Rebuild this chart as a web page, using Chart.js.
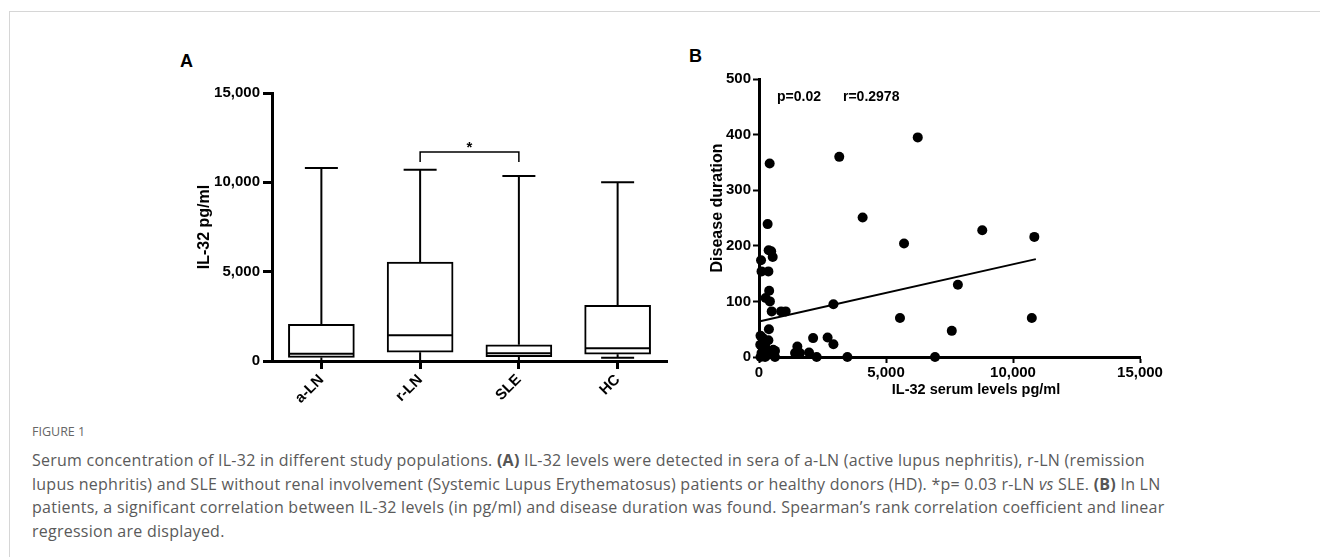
<!DOCTYPE html>
<html>
<head>
<meta charset="utf-8">
<script src="https://cdn.jsdelivr.net/npm/chart.js@4.4.0/dist/chart.umd.min.js"></script>
<style>
  body { margin: 0; background: #fff; width: 1320px; height: 557px; overflow: hidden; position: relative; }
  .frame { position: absolute; left: 9px; top: 11px; width: 1320px; height: 560px; border-left: 1px solid #d6d6d6; border-top: 1px solid #d6d6d6; }
  .wrap { position: absolute; }
  #wrapA { left: 170px; top: 40px; width: 520px; height: 370px; }
  #wrapB { left: 690px; top: 40px; width: 480px; height: 370px; }
  .panel { position: absolute; font: bold 18px 'Liberation Sans', Arial, sans-serif; line-height: 18px; color: #000; }
  #fig { position: absolute; left: 32px; top: 424px; font: 12.5px 'Open Sans', sans-serif; line-height: 16px; color: #666; }
  #cap { position: absolute; left: 32px; top: 449px; font: 16px 'Open Sans', sans-serif; letter-spacing: 0.25px; line-height: 23.5px; color: #5a5a5a; white-space: nowrap; }
  #cap b { color: #555; }
</style>
</head>
<body>
<div class="frame"></div>
<div class="panel" style="left:180px; top:52px;">A</div>
<div class="panel" style="left:689px; top:47px;">B</div>
<div class="wrap" id="wrapA"><canvas id="chartA" width="520" height="370"></canvas></div>
<div class="wrap" id="wrapB"><canvas id="chartB" width="480" height="370"></canvas></div>
<div id="fig">FIGURE 1</div>
<div id="cap">Serum concentration of IL-32 in different study populations. <b>(A)</b> IL-32 levels were detected in sera of a-LN (active lupus nephritis), r-LN (remission<br>lupus nephritis) and SLE without renal involvement (Systemic Lupus Erythematosus) patients or healthy donors (HD). *p= 0.03 r-LN <i>vs</i> SLE. <b>(B)</b> In LN<br>patients, a significant correlation between IL-32 levels (in pg/ml) and disease duration was found. Spearman’s rank correlation coefficient and linear<br>regression are displayed.</div>

<script>
// Panel A - box plot
const groups = ['a-LN', 'r-LN', 'SLE', 'HC'];
const whiskerMin = [0, 0, 0, 180];
const q1 = [200, 490, 240, 380];
const median = [410, 1440, 430, 710];
const q3 = [2050, 5540, 910, 3120];
const whiskerMax = [10800, 10700, 10350, 10000];
const yTicksA = [0, 5000, 10000, 15000];
// significance bracket r-LN vs SLE
const sigPair = ['r-LN', 'SLE'];
const sigLevel = 11700;
const sigText = '*';

// Panel B - scatter (IL-32 vs disease duration)
const il32 = [6250, 3160, 420, 4080, 340, 5710, 8790, 10840,
    380, 480, 540, 80, 100, 370, 400, 260, 430,
    7830, 2930, 500, 870, 1050, 5550, 10740, 7590, 390,
    2130, 2700, 2930, 1510, 1420, 1610, 1970, 2270, 3480, 6930,
    60, 150, 370, 240, 50, 560, 300, 630, 100, 430, 360, 630, 60, 240, 180];
const duration = [395, 360, 348, 251, 239, 204, 228, 216,
    192, 190, 180, 174, 154, 154, 119, 106, 100,
    130, 95, 82, 82, 82, 70, 70, 47, 50,
    34, 35, 23, 19, 7, 7, 8, 0, 0, 0,
    38, 34, 30, 22, 22, 13, 13, 11, 7, 7, 4, 0, 0, 0, 15];
const fitX = [0, 10900];
const fitY = [64, 176];
const statsText = ['p=0.02', 'r=0.2978'];

const FONT = "'Liberation Sans', Arial, sans-serif";
const fmt = v => Number(v).toLocaleString('en-US');

function seg(ctx, x1, y1, x2, y2) {
    ctx.beginPath();
    ctx.moveTo(x1, y1);
    ctx.lineTo(x2, y2);
    ctx.stroke();
}

// whiskers, caps, medians and the significance bracket
const boxParts = {
    id: 'boxParts',
    afterDatasetsDraw(chart) {
        const { ctx, scales: { x, y } } = chart;
        const bars = chart.getDatasetMeta(0).data;
        ctx.save();
        ctx.strokeStyle = '#000';
        ctx.lineWidth = 2;
        groups.forEach((g, i) => {
            const cx = x.getPixelForValue(i);
            const half = bars[i].width / 2;
            const cap = half / 2;
            seg(ctx, cx, y.getPixelForValue(q3[i]), cx, y.getPixelForValue(whiskerMax[i]));
            seg(ctx, cx - cap, y.getPixelForValue(whiskerMax[i]), cx + cap, y.getPixelForValue(whiskerMax[i]));
            seg(ctx, cx, y.getPixelForValue(q1[i]), cx, y.getPixelForValue(whiskerMin[i]));
            seg(ctx, cx - cap, y.getPixelForValue(whiskerMin[i]), cx + cap, y.getPixelForValue(whiskerMin[i]));
            seg(ctx, cx - half + 1, y.getPixelForValue(median[i]), cx + half - 1, y.getPixelForValue(median[i]));
        });
        // bracket
        const xa = x.getPixelForValue(groups.indexOf(sigPair[0]));
        const xb = x.getPixelForValue(groups.indexOf(sigPair[1]));
        const yb = y.getPixelForValue(sigLevel);
        ctx.lineWidth = 1.5;
        ctx.beginPath();
        ctx.moveTo(xa, yb + 10);
        ctx.lineTo(xa, yb);
        ctx.lineTo(xb, yb);
        ctx.lineTo(xb, yb + 10);
        ctx.stroke();
        ctx.fillStyle = '#000';
        ctx.font = 'bold 15px ' + FONT;
        ctx.textAlign = 'center';
        ctx.textBaseline = 'middle';
        ctx.fillText(sigText, (xa + xb) / 2, yb - 4);
        ctx.restore();
    }
};

new Chart(document.getElementById('chartA'), {
    type: 'bar',
    data: {
        labels: groups,
        datasets: [{
            data: groups.map((g, i) => [q1[i], q3[i]]),
            backgroundColor: '#fff',
            borderColor: '#000',
            borderWidth: 2,
            borderSkipped: false,
            barThickness: 66
        }]
    },
    options: {
        responsive: false,
        animation: false,
        devicePixelRatio: 1,
        layout: { padding: { top: 53, right: 23, left: 0, bottom: 0 } },
        plugins: { legend: { display: false }, tooltip: { enabled: false } },
        scales: {
            x: {
                offset: true,
                grid: { offset: false, drawOnChartArea: false, drawTicks: true, tickLength: 8, tickWidth: 3, color: '#000' },
                border: { display: true, color: '#000', width: 3 },
                ticks: { color: '#000', font: { family: FONT, size: 15, weight: 'bold' }, minRotation: 45, maxRotation: 45, padding: 2 },
                afterFit(s) { s.height = 49; }
            },
            y: {
                min: 0,
                max: 15000,
                afterBuildTicks(s) { s.ticks = yTicksA.map(v => ({ value: v })); },
                grid: { drawOnChartArea: false, drawTicks: true, tickLength: 9, tickWidth: 3, color: '#000' },
                border: { display: true, color: '#000', width: 3 },
                ticks: { color: '#000', font: { family: FONT, size: 15, weight: 'bold' }, padding: 3, callback: fmt },
                title: { display: true, text: 'IL-32 pg/ml', color: '#000', font: { family: FONT, size: 16, weight: 'bold' }, padding: { top: 25, bottom: 0 } },
                afterFit(s) { s.width = 102; }
            }
        }
    },
    plugins: [boxParts]
});

// axis titles and stats text for panel B
const scatterText = {
    id: 'scatterText',
    afterDraw(chart) {
        const { ctx, chartArea: a } = chart;
        ctx.save();
        ctx.fillStyle = '#000';
        ctx.textBaseline = 'middle';
        ctx.font = 'bold 14px ' + FONT;
        ctx.textAlign = 'left';
        ctx.fillText(statsText[0], a.left + 18, a.top + 18);
        ctx.fillText(statsText[1], a.left + 84, a.top + 18);
        ctx.textAlign = 'center';
        ctx.font = 'bold 14.5px ' + FONT;
        ctx.fillText('IL-32 serum levels pg/ml', a.left + 217, a.bottom + 33);
        ctx.translate(28, a.top + 129);
        ctx.rotate(-Math.PI / 2);
        ctx.font = 'bold 16px ' + FONT;
        ctx.fillText('Disease duration', 0, 0);
        ctx.restore();
    }
};

new Chart(document.getElementById('chartB'), {
    type: 'scatter',
    data: {
        datasets: [{
            data: il32.map((v, i) => ({ x: v, y: duration[i] })),
            backgroundColor: '#000',
            borderWidth: 0,
            pointRadius: 5,
            clip: false
        }, {
            type: 'line',
            data: fitX.map((v, i) => ({ x: v, y: fitY[i] })),
            borderColor: '#000',
            borderWidth: 2,
            pointRadius: 0,
            fill: false,
            clip: false
        }]
    },
    options: {
        responsive: false,
        animation: false,
        devicePixelRatio: 1,
        layout: { padding: { top: 39, right: 30, left: 0, bottom: 0 } },
        plugins: { legend: { display: false }, tooltip: { enabled: false } },
        scales: {
            x: {
                type: 'linear',
                min: 0,
                max: 15000,
                grid: { drawOnChartArea: false, drawTicks: true, tickLength: 6, tickWidth: 2, color: '#000' },
                border: { display: true, color: '#000', width: 3 },
                ticks: { stepSize: 5000, color: '#000', font: { family: FONT, size: 15, weight: 'bold' }, padding: 1, callback: fmt },
                afterFit(s) { s.height = 53; }
            },
            y: {
                min: 0,
                max: 500,
                grid: { drawOnChartArea: false, drawTicks: true, tickLength: 6, tickWidth: 2, color: '#000' },
                border: { display: true, color: '#000', width: 3 },
                ticks: { stepSize: 100, color: '#000', font: { family: FONT, size: 15, weight: 'bold' }, padding: 2, callback: fmt },
                afterFit(s) { s.width = 69; }
            }
        }
    },
    plugins: [scatterText]
});
</script>
</body>
</html>
